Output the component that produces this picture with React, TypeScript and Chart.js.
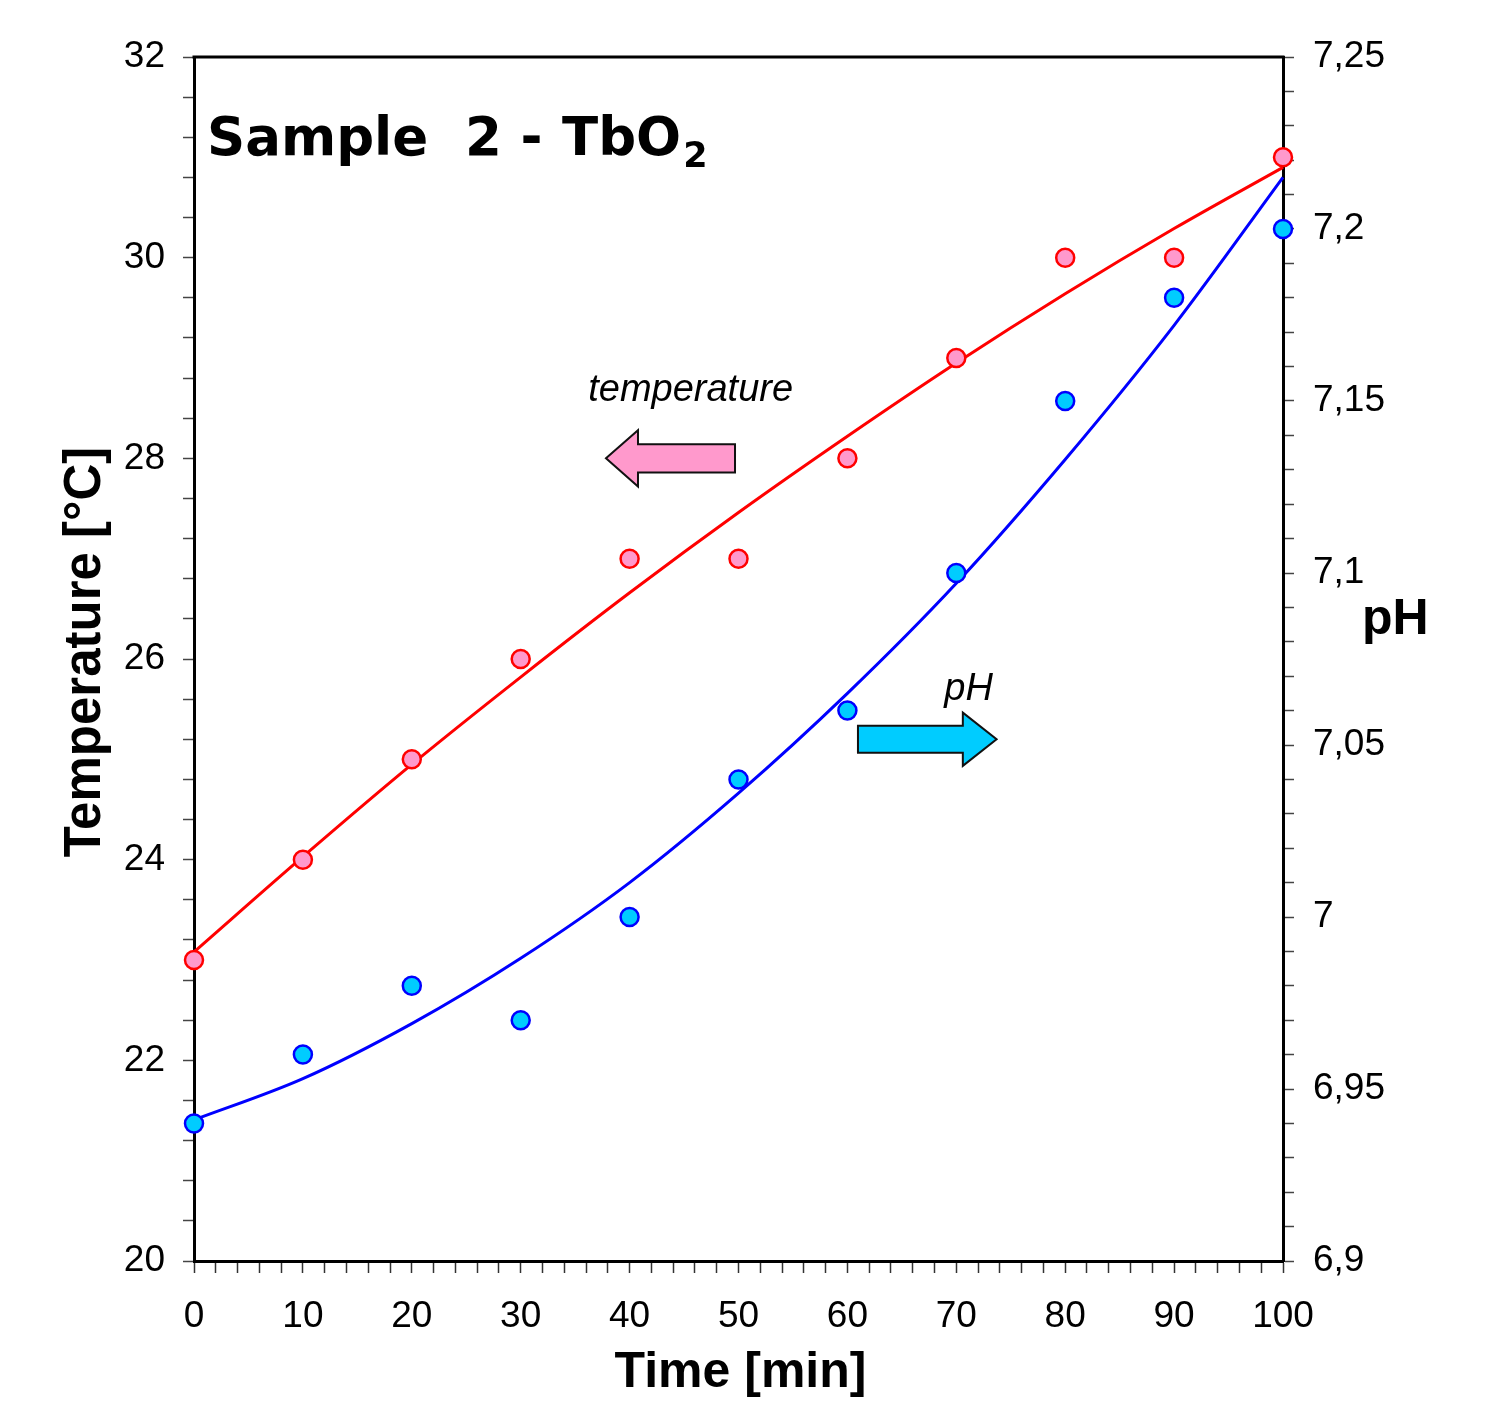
import React, { useEffect, useRef } from "react";
import { Chart, registerables } from "chart.js";

Chart.register(...registerables);

// ---- data ----
const timeMin = [0, 10, 20, 30, 40, 50, 60, 70, 80, 90, 100];
const temperatureC = [23, 24, 25, 26, 27, 27, 28, 29, 30, 30, 31];
const pHValues = [6.94, 6.96, 6.98, 6.97, 7.0, 7.04, 7.06, 7.1, 7.15, 7.18, 7.2];
// fitted trend curves
const temperatureFit = [23.08, 24.03, 24.95, 25.82, 26.66, 27.46, 28.22, 28.95, 29.64, 30.29, 30.9];
const pHFit = [6.941, 6.953, 6.969, 6.988, 7.01, 7.036, 7.065, 7.097, 7.133, 7.172, 7.215];

const xTickMajor = 10;
const tempTickMajor = 2;
const pHTickMajorHundredths = 5;

const FONT = "'Liberation Sans', Arial, sans-serif";

function drawArrow(
  ctx: CanvasRenderingContext2D,
  xs: any,
  ys: any,
  tailX: number,
  headBaseX: number,
  tipX: number,
  cy: number,
  shaftHalf: number,
  headHalf: number,
  fill: string
) {
  const px = (v: number) => xs.getPixelForValue(v);
  const py = (v: number) => ys.getPixelForValue(v);
  ctx.save();
  ctx.beginPath();
  ctx.moveTo(px(tailX), py(cy + shaftHalf));
  ctx.lineTo(px(headBaseX), py(cy + shaftHalf));
  ctx.lineTo(px(headBaseX), py(cy + headHalf));
  ctx.lineTo(px(tipX), py(cy));
  ctx.lineTo(px(headBaseX), py(cy - headHalf));
  ctx.lineTo(px(headBaseX), py(cy - shaftHalf));
  ctx.lineTo(px(tailX), py(cy - shaftHalf));
  ctx.closePath();
  ctx.fillStyle = fill;
  ctx.fill();
  ctx.strokeStyle = "#111";
  ctx.lineWidth = 2;
  ctx.stroke();
  ctx.restore();
}

const decorPlugin = {
  id: "decor",
  afterDraw(chart: any) {
    const ctx: CanvasRenderingContext2D = chart.ctx;
    const { left, right, top, bottom } = chart.chartArea;
    const xs = chart.scales.x;
    const ys = chart.scales.y;
    ctx.save();
    // top frame line
    ctx.strokeStyle = "#000";
    ctx.lineWidth = 3;
    ctx.beginPath();
    ctx.moveTo(left - 1.5, top);
    ctx.lineTo(right + 1.5, top);
    ctx.stroke();

    ctx.fillStyle = "#000";
    // Sample title
    ctx.font = "bold 53px 'DejaVu Sans', Verdana, sans-serif";
    ctx.textAlign = "left";
    ctx.textBaseline = "alphabetic";
    const tx = left + 13;
    const tb = top + 98;
    ctx.fillText("Sample  2 -", tx, tb);
    const tx2 = left + 368;
    ctx.fillText("TbO", tx2, tb);
    const w = ctx.measureText("TbO").width;
    ctx.font = "bold 35px 'DejaVu Sans', Verdana, sans-serif";
    ctx.fillText("2", tx2 + w + 2, tb + 12);

    // y axis title (left)
    ctx.save();
    ctx.font = "bold 51px " + FONT;
    ctx.translate(100, (top + bottom) / 2 - 7);
    ctx.rotate(-Math.PI / 2);
    ctx.textAlign = "center";
    ctx.fillText("Temperature [°C]", 0, 0);
    ctx.restore();

    // x axis title
    ctx.font = "bold 50px " + FONT;
    ctx.textAlign = "center";
    ctx.fillText("Time [min]", (left + right) / 2 + 2, bottom + 126);

    // right axis title
    ctx.textAlign = "left";
    ctx.fillText("pH", right + 79, 634);

    // annotations
    ctx.font = "italic 38px " + FONT;
    ctx.fillText("temperature", xs.getPixelForValue(36.2), ys.getPixelForValue(28.57));
    ctx.fillText("pH", xs.getPixelForValue(68.9), ys.getPixelForValue(25.59));
    ctx.restore();

    drawArrow(ctx, xs, ys, 49.68, 40.77, 37.83, 28.0, 0.14, 0.28, "#ff99cc");
    drawArrow(ctx, xs, ys, 60.97, 70.6, 73.7, 25.2, 0.135, 0.265, "#00ccff");
  },
};

export default function App() {
  const ref = useRef<HTMLCanvasElement | null>(null);

  useEffect(() => {
    if (!ref.current) return;
    const tickFont = { family: FONT, size: 37 };
    const chart = new Chart(ref.current, {
      type: "scatter",
      data: {
        datasets: [
          {
            label: "temperature",
            data: timeMin.map((t, i) => ({ x: t, y: temperatureC[i] })),
            yAxisID: "y",
            showLine: false,
            pointRadius: 9,
            pointBackgroundColor: "#ff99cc",
            pointBorderColor: "#ff0000",
            pointBorderWidth: 2.5,
            clip: false,
            order: 0,
          } as any,
          {
            label: "pH",
            data: timeMin.map((t, i) => ({ x: t, y: pHValues[i] })),
            yAxisID: "y2",
            showLine: false,
            pointRadius: 9,
            pointBackgroundColor: "#00ccff",
            pointBorderColor: "#0000ff",
            pointBorderWidth: 2.5,
            clip: false,
            order: 0,
          } as any,
          {
            label: "temperature fit",
            data: timeMin.map((t, i) => ({ x: t, y: temperatureFit[i] })),
            yAxisID: "y",
            showLine: true,
            borderColor: "#ff0000",
            borderWidth: 3,
            pointRadius: 0,
            cubicInterpolationMode: "monotone",
            clip: false,
            order: 2,
          } as any,
          {
            label: "pH fit",
            data: timeMin.map((t, i) => ({ x: t, y: pHFit[i] })),
            yAxisID: "y2",
            showLine: true,
            borderColor: "#0000ff",
            borderWidth: 3,
            pointRadius: 0,
            cubicInterpolationMode: "monotone",
            clip: false,
            order: 2,
          } as any,
        ],
      },
      options: {
        responsive: false,
        maintainAspectRatio: false,
        devicePixelRatio: 1,
        animation: false,
        layout: { padding: { top: 57, left: 0, right: 0, bottom: 0 } },
        plugins: { legend: { display: false }, tooltip: { enabled: false } },
        scales: {
          x: {
            type: "linear",
            position: "bottom",
            min: 0,
            max: 100,
            afterFit: (s: any) => {
              s.height = 142;
            },
            ticks: {
              stepSize: 2,
              autoSkip: false,
              maxRotation: 0,
              padding: 22,
              color: "#000",
              font: tickFont,
              callback: (v: any) => (Math.round(v) % xTickMajor === 0 ? String(Math.round(v)) : ""),
            },
            grid: { drawOnChartArea: false, drawTicks: true, tickLength: 12, tickColor: "#333", tickWidth: 1.5 },
            border: { display: true, color: "#000", width: 3 },
          },
          y: {
            type: "linear",
            position: "left",
            min: 20,
            max: 32,
            afterFit: (s: any) => {
              s.width = 194;
            },
            ticks: {
              stepSize: 0.4,
              autoSkip: false,
              padding: 18,
              color: "#000",
              font: tickFont,
              callback: (v: any) => {
                const r = Math.round(v * 10);
                return r % (tempTickMajor * 10) === 0 ? String(r / 10) : "";
              },
            },
            grid: { drawOnChartArea: false, drawTicks: true, tickLength: 11, tickColor: "#444", tickWidth: 1.5 },
            border: { display: true, color: "#000", width: 3 },
          },
          y2: {
            type: "linear",
            position: "right",
            min: 6.9,
            max: 7.25,
            afterFit: (s: any) => {
              s.width = 214;
            },
            ticks: {
              stepSize: 0.01,
              autoSkip: false,
              padding: 19,
              color: "#000",
              font: tickFont,
              callback: (v: any) => {
                const r = Math.round(v * 100);
                return r % pHTickMajorHundredths === 0 ? String(r / 100).replace(".", ",") : "";
              },
            },
            grid: { drawOnChartArea: false, drawTicks: true, tickLength: 11, tickColor: "#444", tickWidth: 1.5 },
            border: { display: true, color: "#000", width: 3 },
          },
        },
      } as any,
      plugins: [decorPlugin],
    });
    return () => chart.destroy();
  }, []);

  return (
    <div style={{ position: "absolute", left: 0, top: 0, width: 1497, height: 1403, background: "#fff" }}>
      <canvas ref={ref} width={1497} height={1403} style={{ display: "block" }} />
    </div>
  );
}
